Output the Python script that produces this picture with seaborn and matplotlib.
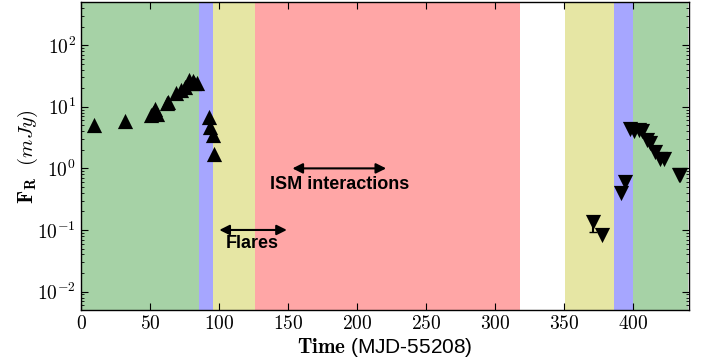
import math
import matplotlib
matplotlib.use("Agg")
import matplotlib.pyplot as plt
import matplotlib.ticker as mticker
import seaborn as sns
import pandas as pd

# phase bands (start, end, colour)
band_start = [0, 85.5, 95.5, 126, 351, 386, 400]
band_end = [85.5, 95.5, 126, 318, 386, 400, 440]
band_color = ["#a6d2a6", "#a6a6ff", "#e6e6a4", "#ffa6a6", "#e6e6a4", "#a6a6ff", "#a6d2a6"]

# rise (detections before the gap)
rise_t = [9.3, 31.6, 50.5, 52, 53.3, 55, 61.8, 63, 68.6, 72.2, 75, 78.2, 80.7, 81.6, 84,
          92.5, 93.3, 95.2, 96.4]
rise_f = [5.05, 5.85, 7.3, 8.0, 9.3, 7.6, 11.6, 12.0, 16.5, 19.0, 21.0, 27.0, 26.0, 24.0, 24.0,
          6.9, 4.7, 3.5, 1.7]

# decay (after the gap)
decay_t = [370.7, 377.5, 391.3, 394.4, 398, 400.4, 404, 406.5, 410.2, 412.6, 416.2, 419.8,
           422.2, 433, 434.3]
decay_f = [0.137, 0.083, 0.40, 0.61, 4.3, 4.1, 4.2, 4.1, 2.9, 2.55, 1.86, 1.4, 1.4, 0.78, 0.78]

# one point with a visible error bar
err_t = [370.7]
err_f = [0.137]
err_lo = [0.043]
err_hi = [0.015]

sns.set_style("ticks")
plt.rcParams["mathtext.fontset"] = "cm"
plt.rcParams["font.family"] = ["Liberation Sans", "DejaVu Sans"]
plt.rcParams["text.color"] = "black"
plt.rcParams["axes.labelcolor"] = "black"
plt.rcParams["xtick.color"] = "black"
plt.rcParams["ytick.color"] = "black"

rise = pd.DataFrame({"t": rise_t, "f": rise_f})
decay = pd.DataFrame({"t": decay_t, "f": decay_f})

fig, ax = plt.subplots(figsize=(7.08, 3.61), dpi=100)
fig.subplots_adjust(left=0.114, right=0.973, top=0.994, bottom=0.141)

for s, e, c in zip(band_start, band_end, band_color):
    ax.axvspan(s, e, color=c, lw=0, zorder=0)

ax.errorbar(err_t, err_f, yerr=[err_lo, err_hi], fmt="none", ecolor="black", elinewidth=1.5,
            capsize=3, zorder=3)
sns.scatterplot(data=rise, x="t", y="f", marker="^", color="black", s=120, edgecolor="black",
                linewidth=0, ax=ax, zorder=4)
sns.scatterplot(data=decay, x="t", y="f", marker="v", color="black", s=120, edgecolor="black",
                linewidth=0, ax=ax, zorder=4)

ax.set_yscale("log")
ax.set_xlim(-0.5, 440.5)
ax.set_ylim(5e-3, 5e2)

ax.xaxis.set_major_locator(mticker.MultipleLocator(50))
ax.xaxis.set_major_formatter(mticker.FuncFormatter(lambda v, p: r"$%d$" % v))
ax.yaxis.set_major_formatter(mticker.FuncFormatter(lambda v, p: r"$10^{%d}$" % round(math.log10(v))))
ax.tick_params(axis="both", which="both", direction="in", top=True, right=True, labelsize=14)
ax.tick_params(which="major", length=5)
ax.tick_params(which="minor", length=2.5)
for sp in ax.spines.values():
    sp.set_linewidth(1)
    sp.set_color("black")

ax.set_xlabel(r"$\mathbf{Time}$ (MJD-55208)", fontsize=15, labelpad=2)
ax.set_ylabel(r"$\mathbf{F_R}\ \ (mJy)$", fontsize=15, labelpad=-2)

# annotations
arrow = dict(arrowstyle="<|-|>", color="black", lw=1.5, mutation_scale=15)
ax.annotate("", xy=(151, 1.0), xytext=(223, 1.0), arrowprops=arrow)
ax.text(187.5, 0.54, "ISM interactions", ha="center", va="center", fontsize=13, fontweight="bold")
ax.annotate("", xy=(98, 0.1), xytext=(151, 0.1), arrowprops=arrow)
ax.text(124, 0.06, "Flares", ha="center", va="center", fontsize=13, fontweight="bold")

fig.savefig("out.png", dpi=100)
